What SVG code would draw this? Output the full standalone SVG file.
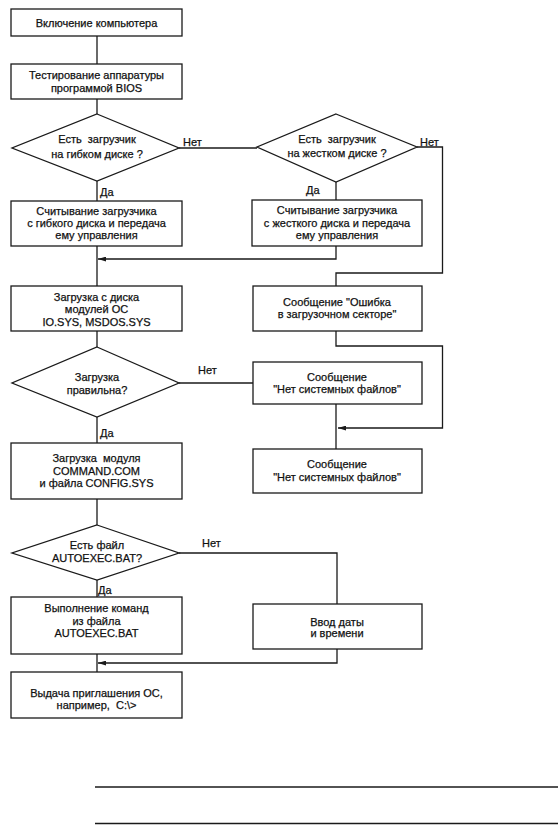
<svg xmlns="http://www.w3.org/2000/svg" width="558" height="825" viewBox="0 0 558 825">
<style>
.n{fill:#fff;stroke:#1a1a1a;stroke-width:1.3}
.t{font-family:"Liberation Sans",Arial,sans-serif;font-size:11px;fill:#111;stroke:#111;stroke-width:0.25;text-anchor:middle}
.l{font-family:"Liberation Sans",Arial,sans-serif;font-size:11px;fill:#111;stroke:#111;stroke-width:0.25}
.c{fill:none;stroke:#1a1a1a;stroke-width:1.3}
</style>
<defs>
<marker id="ar" viewBox="0 0 10 6" refX="10" refY="3" markerWidth="8" markerHeight="5" markerUnits="userSpaceOnUse" orient="auto">
<path d="M0,0 L10,3 L0,6 z" fill="#1a1a1a"/>
</marker>
</defs>
<rect width="558" height="825" fill="#fff"/>
<g id="connectors">
<path class="c" d="M97,36 V64"/>
<path class="c" d="M97,99 V114"/>
<path class="c" d="M179,148 H257"/>
<path class="c" d="M97,181 V201"/>
<path class="c" d="M336,182 V200"/>
<path class="c" d="M417,147 H442.5 V273 H336 V286"/>
<path class="c" d="M97,246 V286"/>
<path class="c" d="M336,246 V259 H98" marker-end="url(#ar)"/>
<path class="c" d="M97,331 V347"/>
<path class="c" d="M179,383 H253"/>
<path class="c" d="M336,331 V346 H442.5 V428 H338" marker-end="url(#ar)"/>
<path class="c" d="M336,404 V449"/>
<path class="c" d="M97,417 V443"/>
<path class="c" d="M97,499 V525"/>
<path class="c" d="M179,553 H337 V604"/>
<path class="c" d="M97,580 V597"/>
<path class="c" d="M97,654 V672"/>
<path class="c" d="M337,649 V663 H98" marker-end="url(#ar)"/>
<text class="l" x="183" y="146">Нет</text>
<text class="l" x="420" y="146">Нет</text>
<text class="l" x="100" y="196">Да</text>
<text class="l" x="306" y="194">Да</text>
<text class="l" x="198" y="374">Нет</text>
<text class="l" x="100" y="437">Да</text>
<text class="l" x="202" y="547">Нет</text>
<text class="l" x="98" y="594">Да</text>
</g>
<g id="start">
<rect class="n" x="11" y="9" width="171" height="27"/>
<text class="t" x="96.5" y="27">Включение компьютера</text>
</g>
<g id="bios">
<rect class="n" x="11" y="64" width="171" height="35"/>
<text class="t" x="96.5" y="79">Тестирование аппаратуры</text>
<text class="t" x="96.5" y="92">программой BIOS</text>
</g>
<g id="floppy-q">
<polygon class="n" points="97,114 179,148 97,181 12,148"/>
<text class="t" x="97" y="143" xml:space="preserve">Есть  загрузчик</text>
<text class="t" x="97" y="158">на гибком диске ?</text>
</g>
<g id="hdd-q">
<polygon class="n" points="336,114 417,147 336,182 257,147"/>
<text class="t" x="337" y="143" xml:space="preserve">Есть  загрузчик</text>
<text class="t" x="337" y="157">на жестком диске ?</text>
</g>
<g id="floppy-read">
<rect class="n" x="11" y="201" width="171" height="45"/>
<text class="t" x="96.5" y="215">Считывание загрузчика</text>
<text class="t" x="96.5" y="227">с гибкого диска и передача</text>
<text class="t" x="96.5" y="239">ему управления</text>
</g>
<g id="hdd-read">
<rect class="n" x="252" y="200" width="170" height="46"/>
<text class="t" x="337" y="214">Считывание загрузчика</text>
<text class="t" x="337" y="227">с жесткого диска и передача</text>
<text class="t" x="337" y="239">ему управления</text>
</g>
<g id="load-os">
<rect class="n" x="11" y="286" width="171" height="45"/>
<text class="t" x="96.5" y="301">Загрузка с диска</text>
<text class="t" x="96.5" y="313">модулей ОС</text>
<text class="t" x="96.5" y="326">IO.SYS, MSDOS.SYS</text>
</g>
<g id="boot-error">
<rect class="n" x="253" y="286" width="169" height="45"/>
<text class="t" x="337" y="306">Сообщение "Ошибка</text>
<text class="t" x="337" y="318">в загрузочном секторе"</text>
</g>
<g id="load-ok-q">
<polygon class="n" points="97,347 179,383 97,417 12,383"/>
<text class="t" x="97" y="381">Загрузка</text>
<text class="t" x="97" y="394">правильна?</text>
</g>
<g id="no-files-1">
<rect class="n" x="253" y="362" width="169" height="42"/>
<text class="t" x="337" y="381">Сообщение</text>
<text class="t" x="337" y="393">"Нет системных файлов"</text>
</g>
<g id="no-files-2">
<rect class="n" x="253" y="449" width="169" height="44"/>
<text class="t" x="337" y="468">Сообщение</text>
<text class="t" x="337" y="481">"Нет системных файлов"</text>
</g>
<g id="load-command">
<rect class="n" x="11" y="443" width="171" height="56"/>
<text class="t" x="96.5" y="462" xml:space="preserve">Загрузка  модуля</text>
<text class="t" x="96.5" y="475">COMMAND.COM</text>
<text class="t" x="96.5" y="487">и файла CONFIG.SYS</text>
</g>
<g id="autoexec-q">
<polygon class="n" points="97,525 179,553 97,580 12,553"/>
<text class="t" x="97" y="549">Есть файл</text>
<text class="t" x="97" y="562">AUTOEXEC.BAT?</text>
</g>
<g id="run-autoexec">
<rect class="n" x="11" y="597" width="171" height="57"/>
<text class="t" x="96.5" y="612">Выполнение команд</text>
<text class="t" x="96.5" y="625">из файла</text>
<text class="t" x="96.5" y="637">AUTOEXEC.BAT</text>
</g>
<g id="date-time">
<rect class="n" x="253" y="604" width="169" height="45"/>
<text class="t" x="337" y="626">Ввод даты</text>
<text class="t" x="337" y="637">и времени</text>
</g>
<g id="prompt">
<rect class="n" x="11" y="672" width="171" height="46"/>
<text class="t" x="96.5" y="697">Выдача приглашения ОС,</text>
<text class="t" x="96.5" y="709" xml:space="preserve">например,  C:\&gt;</text>
</g>
<g id="rules">
<path class="c" d="M95,787 H558"/>
<path class="c" d="M95,823.5 H558"/>
</g>
</svg>
